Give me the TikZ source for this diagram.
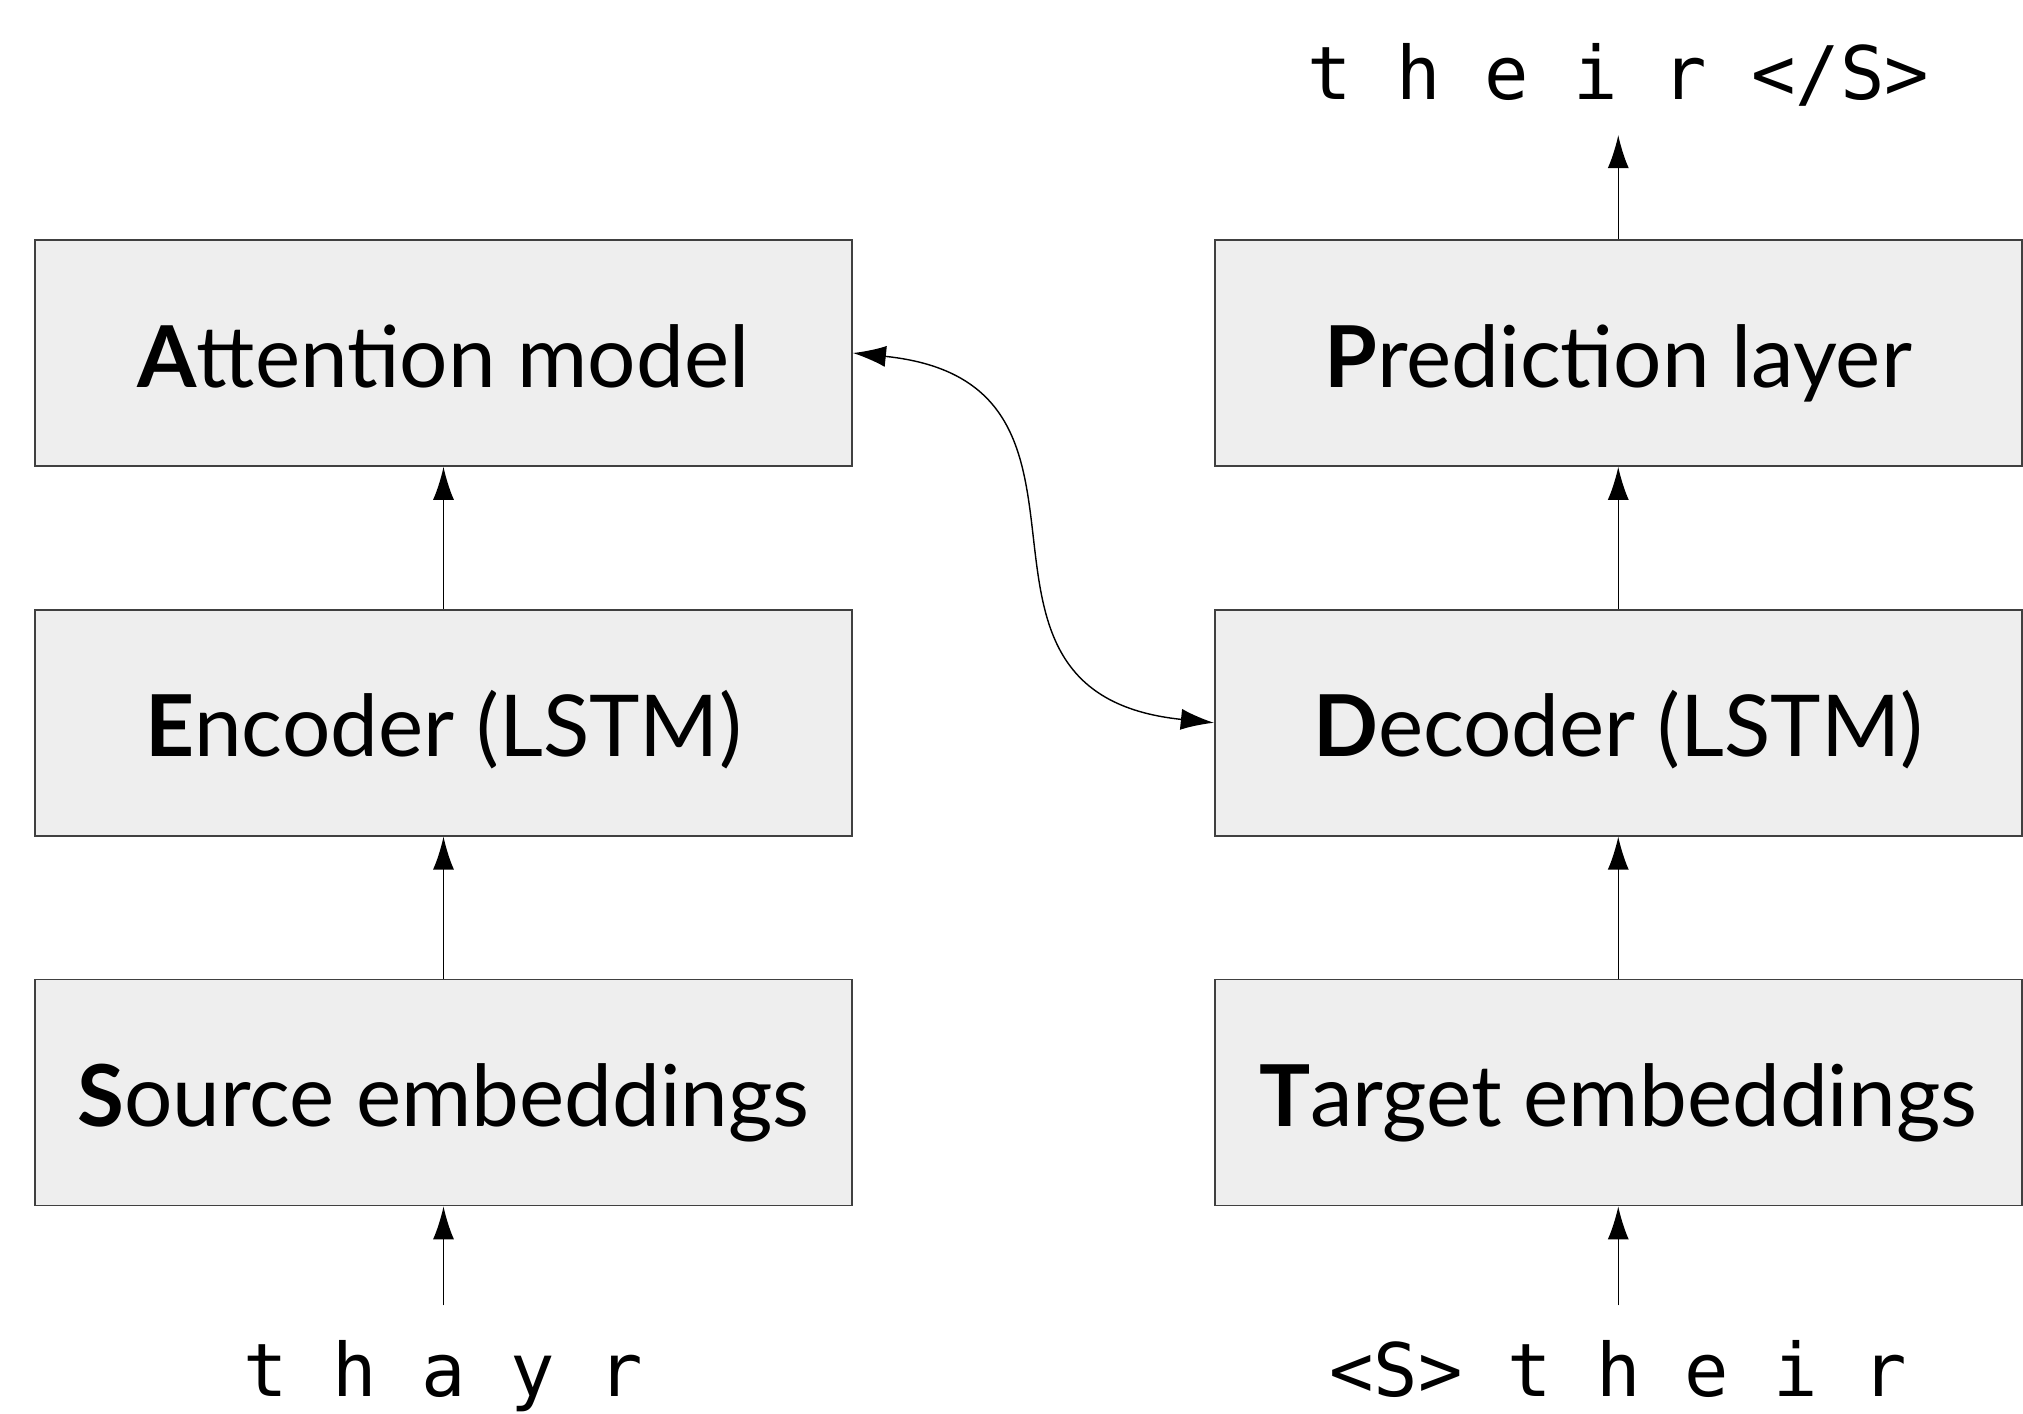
\documentclass[tikz,border=0pt]{standalone}
\usepackage{fontspec}
\setmainfont{Lato}
\newfontfamily\tokfont{DejaVu Sans Mono}
\usetikzlibrary{positioning,arrows.meta}
\definecolor{boxgray}{HTML}{EEEEEE}

\begin{document}
\begin{tikzpicture}[
  >={Latex[length=9.4pt,width=6pt]},
  layer/.style={
    draw=black!75, fill=boxgray, line width=0.5pt,
    minimum width=8.17cm, minimum height=2.26cm,
    inner sep=0pt, text height=19.4pt, text depth=0pt,
    font=\fontsize{24.3}{28}\selectfont
  },
  tok/.style={inner sep=0pt, font=\tokfont\fontsize{21}{24}\selectfont},
  arr/.style={->, line width=0.4pt}
]
\useasboundingbox (0,0) rectangle (20.23,14.13);

% encoder side
\node[layer] (att) at (4.435,10.60) {{\bfseries A}ttention model};
\node[layer, below=1.42cm of att] (enc) {{\bfseries E}ncoder (LSTM)};
\node[layer, below=1.42cm of enc] (src) {{\bfseries S}ource embeddings};

% decoder side
\node[layer, minimum width=8.07cm, right=3.61cm of enc] (dec) {{\bfseries D}ecoder (LSTM)};
\node[layer, minimum width=8.07cm, above=1.42cm of dec] (pred) {{\bfseries P}rediction layer};
\node[layer, minimum width=8.07cm, below=1.42cm of dec] (tgt) {{\bfseries T}arget embeddings};

% tokens
\node[tok, text depth=0.35cm, above=1.04cm of pred] (out) {t h e i r </S>};
\node[tok, text height=0.90cm, below=0.99cm of src] (srcin) {t h a y r};
\node[tok, text height=0.90cm, below=0.99cm of tgt] (tgtin) {<S> t h e i r};

\draw[arr] (src.south |- srcin.north) -- (src.south);
\draw[arr] (src.north) -- (enc.south);
\draw[arr] (enc.north) -- (att.south);
\draw[arr] (tgt.south |- tgtin.north) -- (tgt.south);
\draw[arr] (tgt.north) -- (dec.south);
\draw[arr] (dec.north) -- (pred.south);
\draw[arr] (pred.north) -- (pred.north |- out.south);

\draw[<->, line width=0.4pt] (att.east) .. controls +(2.9,-0.3) and +(-2.9,0.3) .. (dec.west);

\end{tikzpicture}
\end{document}
